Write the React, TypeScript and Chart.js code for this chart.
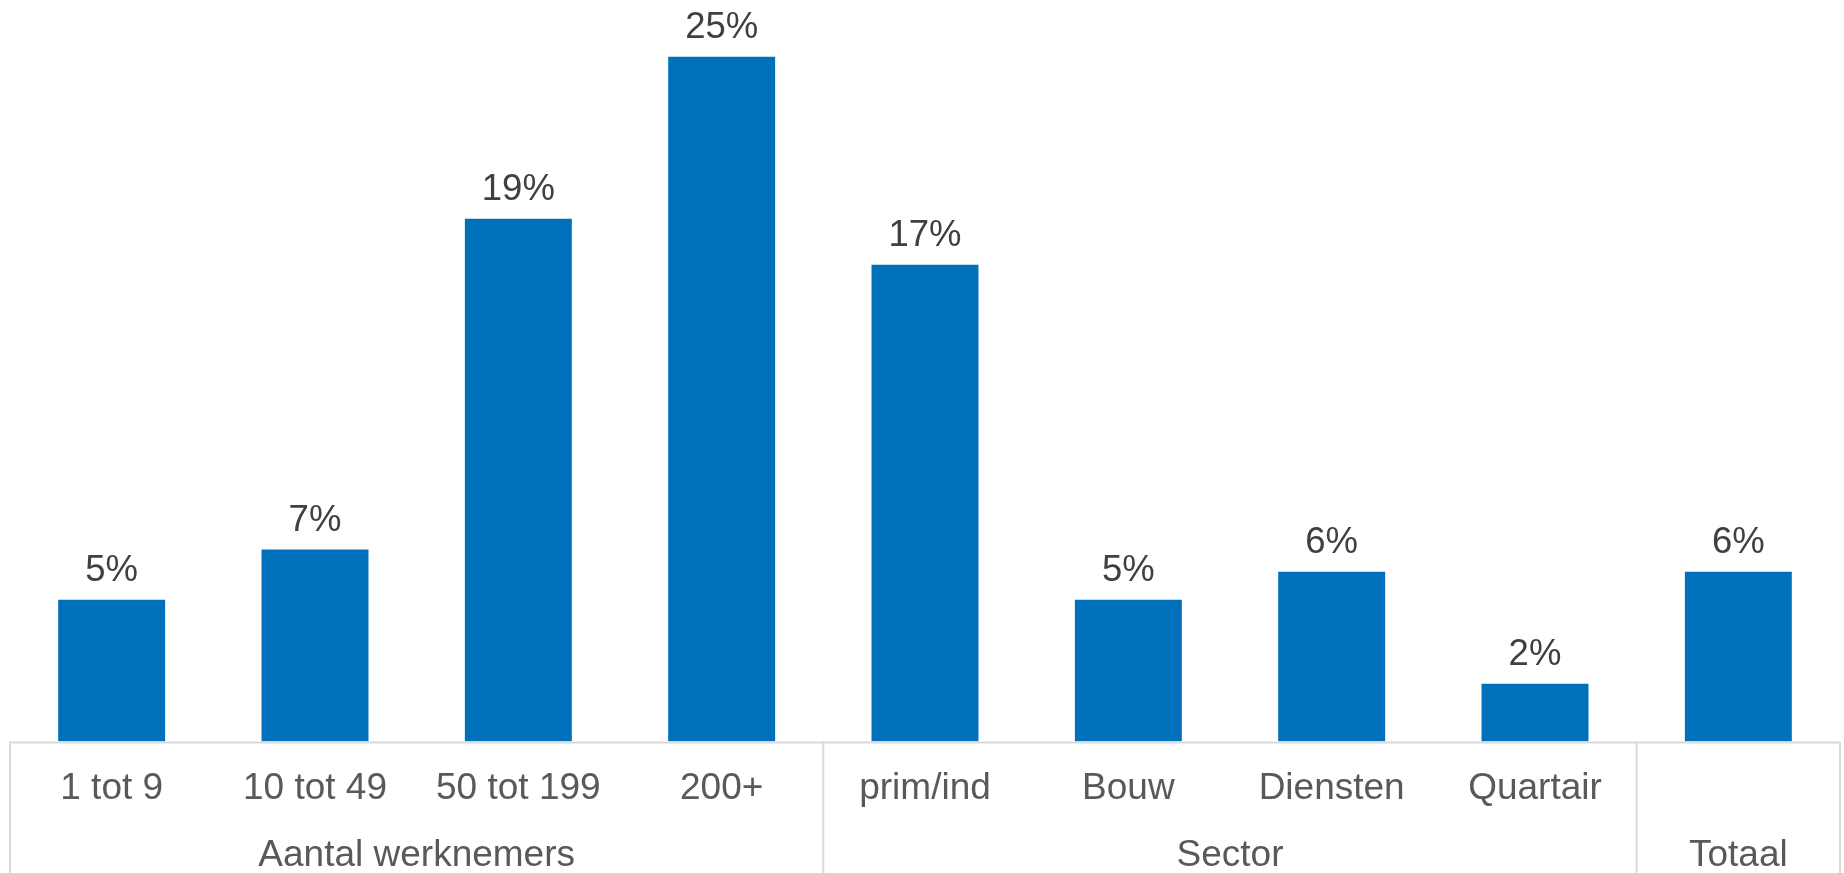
import React, { useEffect, useRef } from "react";
import { Chart, registerables } from "chart.js";

Chart.register(...registerables);

const categories = ["1 tot 9", "10 tot 49", "50 tot 199", "200+", "prim/ind", "Bouw", "Diensten", "Quartair", "Totaal"];
const tickLabels = ["1 tot 9", "10 tot 49", "50 tot 199", "200+", "prim/ind", "Bouw", "Diensten", "Quartair", ""];
const values = [5.14, 6.96, 18.95, 24.82, 17.28, 5.14, 6.15, 2.09, 6.15];
const groupLabels = ["Aantal werknemers", "Sector", "Totaal"];
const groupStarts = [0, 4, 8];
const groupEnds = [4, 8, 9];

const FONT = "'Liberation Sans', Arial, sans-serif";
const BAR_COLOR = "#0070BA";
const LINE_COLOR = "#D9D9D9";

export default function App() {
  const ref = useRef<HTMLCanvasElement | null>(null);

  useEffect(() => {
    if (!ref.current) return;

    const decor = {
      id: "decor",
      afterDatasetsDraw(chart: any) {
        const ctx = chart.ctx;
        const x = chart.scales.x;
        const area = chart.chartArea;
        const n = categories.length;
        const cw = (x.right - x.left) / n;
        const bound = (i: number) => x.left + i * cw;
        const h = chart.height;

        ctx.save();
        ctx.strokeStyle = LINE_COLOR;
        ctx.lineWidth = 2;
        ctx.beginPath();
        ctx.moveTo(bound(0), area.bottom + 1);
        ctx.lineTo(bound(n), area.bottom + 1);
        ctx.stroke();
        const seps = [0, ...groupEnds];
        seps.forEach((i) => {
          ctx.beginPath();
          ctx.moveTo(bound(i), area.bottom);
          ctx.lineTo(bound(i), h);
          ctx.stroke();
        });

        ctx.fillStyle = "#595959";
        ctx.font = `37px ${FONT}`;
        ctx.textAlign = "center";
        ctx.textBaseline = "alphabetic";
        groupLabels.forEach((g, k) => {
          const cx = (bound(groupStarts[k]) + bound(groupEnds[k])) / 2;
          ctx.fillText(g, cx, 866);
        });

        ctx.fillStyle = "#404040";
        ctx.font = `36.5px ${FONT}`;
        const meta = chart.getDatasetMeta(0);
        meta.data.forEach((bar: any, i: number) => {
          ctx.fillText(Math.round(values[i]) + "%", bar.x, bar.y - 19);
        });
        ctx.restore();
      },
    };

    const chart = new Chart(ref.current, {
      type: "bar",
      data: {
        labels: categories,
        datasets: [
          {
            data: values,
            backgroundColor: BAR_COLOR,
            borderWidth: 0,
            categoryPercentage: 1,
            barPercentage: 0.526,
          },
        ],
      },
      options: {
        animation: false,
        responsive: true,
        maintainAspectRatio: false,
        layout: { padding: { left: 10, right: 4, top: 0, bottom: 37.1 } },
        plugins: {
          legend: { display: false },
          tooltip: { enabled: false },
        },
        scales: {
          x: {
            grid: { display: false, drawTicks: false },
            border: { display: false },
            ticks: {
              color: "#595959",
              font: { family: FONT, size: 37 },
              padding: 25,
              maxRotation: 0,
              autoSkip: false,
              callback: (_v: any, i: number) => tickLabels[i],
            },
          },
          y: {
            display: false,
            min: 0,
            max: 26.88,
          },
        },
      },
      plugins: [decor],
    });

    return () => chart.destroy();
  }, []);

  return (
    <div style={{ position: "absolute", left: 0, top: 0, width: 1844, height: 873, background: "#fff" }}>
      <canvas ref={ref} />
    </div>
  );
}
